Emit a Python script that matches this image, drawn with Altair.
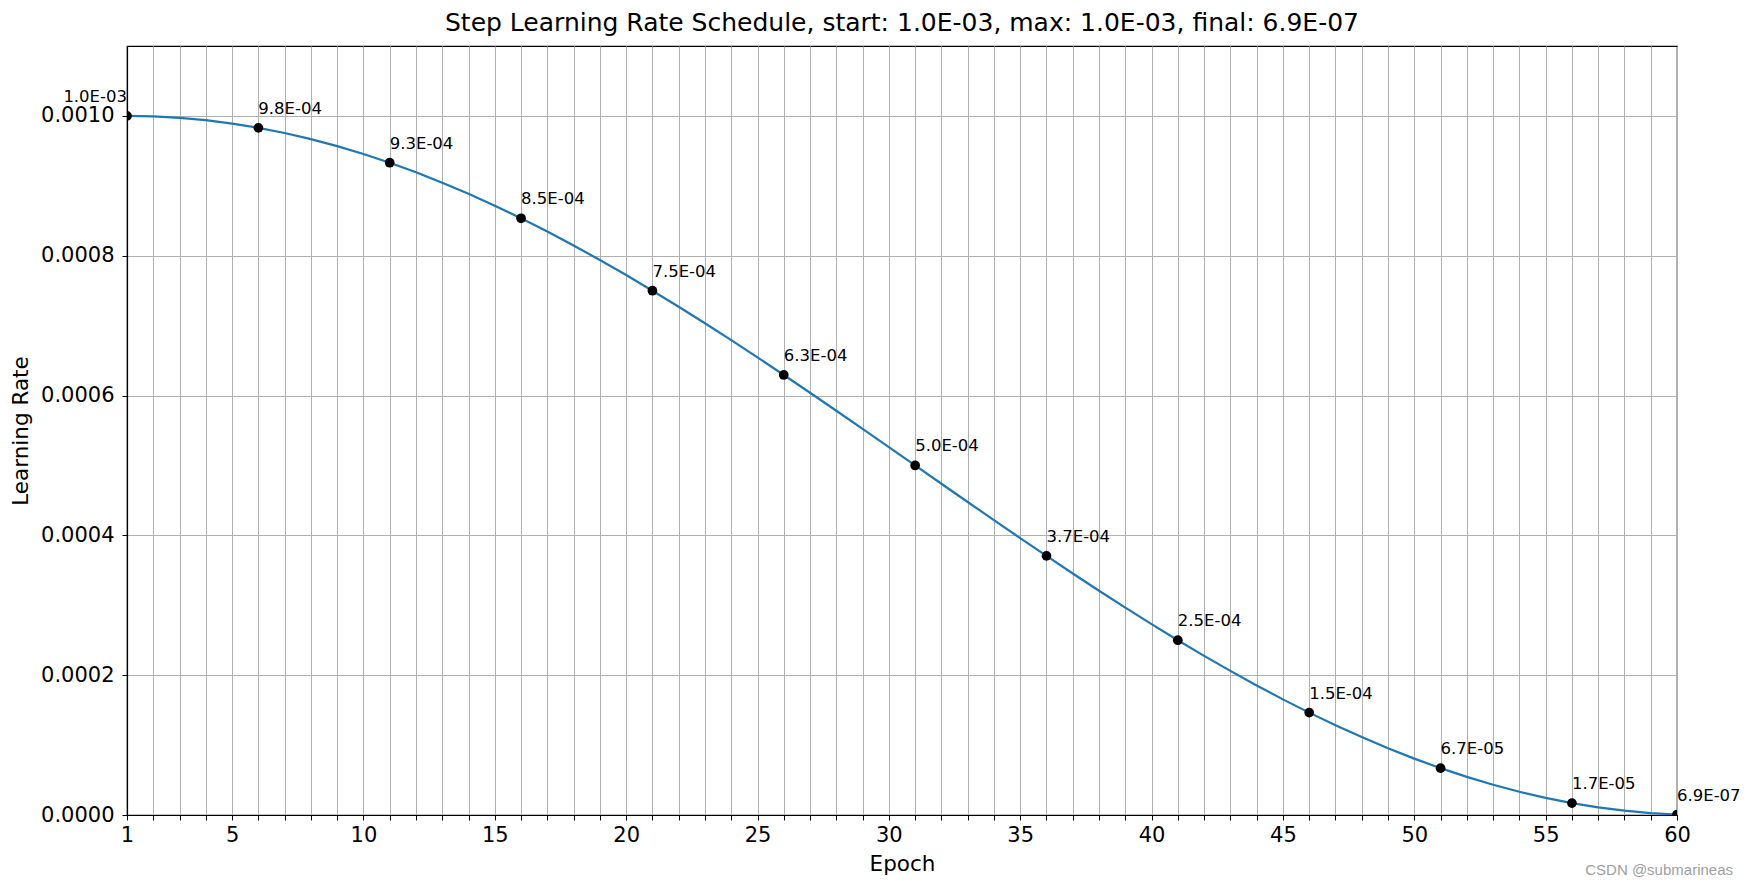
import altair as alt
import pandas as pd

# Learning rate per epoch
epochs = list(range(1, 61))
lr_values = [
    1.0000e-03, 9.9932e-04, 9.9726e-04, 9.9384e-04, 9.8907e-04, 9.8296e-04,
    9.7553e-04, 9.6679e-04, 9.5677e-04, 9.4550e-04, 9.3301e-04, 9.1934e-04,
    9.0451e-04, 8.8857e-04, 8.7157e-04, 8.5355e-04, 8.3457e-04, 8.1466e-04,
    7.9389e-04, 7.7232e-04, 7.5000e-04, 7.2700e-04, 7.0337e-04, 6.7918e-04,
    6.5451e-04, 6.2941e-04, 6.0396e-04, 5.7822e-04, 5.5226e-04, 5.2617e-04,
    5.0000e-04, 4.7383e-04, 4.4774e-04, 4.2178e-04, 3.9604e-04, 3.7059e-04,
    3.4549e-04, 3.2082e-04, 2.9663e-04, 2.7300e-04, 2.5000e-04, 2.2768e-04,
    2.0611e-04, 1.8534e-04, 1.6543e-04, 1.4645e-04, 1.2843e-04, 1.1143e-04,
    9.5490e-05, 8.0660e-05, 6.6990e-05, 5.4500e-05, 4.3230e-05, 3.3210e-05,
    2.4470e-05, 1.7040e-05, 1.0930e-05, 6.1600e-06, 2.7400e-06, 6.8500e-07,
]

marker_epochs = [1, 6, 11, 16, 21, 26, 31, 36, 41, 46, 51, 56, 60]
marker_labels = ["1.0E-03", "9.8E-04", "9.3E-04", "8.5E-04", "7.5E-04", "6.3E-04",
                 "5.0E-04", "3.7E-04", "2.5E-04", "1.5E-04", "6.7E-05", "1.7E-05",
                 "6.9E-07"]

y_ticks = [0.0, 0.0002, 0.0004, 0.0006, 0.0008, 0.0010]
x_ticks = list(range(1, 61))

title_text = "Step Learning Rate Schedule, start: 1.0E-03, max: 1.0E-03, final: 6.9E-07"
watermark = "CSDN @submarineas"

FONT = "DejaVu Sans"

line_df = pd.DataFrame({"epoch": epochs, "lr": lr_values})
marker_df = pd.DataFrame({
    "epoch": marker_epochs,
    "lr": [lr_values[e - 1] for e in marker_epochs],
    "label": marker_labels,
})
wm_df = pd.DataFrame({"t": [watermark]})

x_axis = alt.Axis(
    values=x_ticks,
    labelExpr="(datum.value == 1 || datum.value % 5 == 0) ? datum.label : ''",
    labelOverlap=False,
    labelFlush=False,
    grid=True,
    title="Epoch",
)
y_axis = alt.Axis(values=y_ticks, format=".4f", grid=True, title="Learning Rate")

x_enc = alt.X("epoch:Q", scale=alt.Scale(domain=[1, 60], nice=False, zero=False), axis=x_axis)
y_enc = alt.Y("lr:Q", scale=alt.Scale(domain=[0, 0.0011], nice=False), axis=y_axis)

line = alt.Chart(line_df).mark_line(color="#1f77b4", strokeWidth=2.2, clip=True).encode(
    x=x_enc, y=y_enc
)

points = alt.Chart(marker_df).mark_circle(color="black", opacity=1, size=95, clip=True).encode(
    x=x_enc, y=y_enc
)

labels_main = alt.Chart(marker_df).transform_filter("datum.epoch != 1").mark_text(
    align="left", baseline="alphabetic", dy=-14, fontSize=16.5, font=FONT, color="black"
).encode(x=x_enc, y=y_enc, text="label:N")

labels_first = alt.Chart(marker_df).transform_filter("datum.epoch == 1").mark_text(
    align="right", baseline="alphabetic", dy=-14, fontSize=16.5, font=FONT, color="black"
).encode(x=x_enc, y=y_enc, text="label:N")

wm = alt.Chart(wm_df).mark_text(
    align="right", baseline="middle", fontSize=15, font="Liberation Sans", color="#a0a0a0"
).encode(x=alt.value(1606), y=alt.value(824), text="t:N")

chart = alt.layer(line, points, labels_main, labels_first, wm).properties(
    width=1550,
    height=769,
    padding={"left": 119, "top": 38, "right": 64, "bottom": 65},
    autosize=alt.AutoSizeParams(type="none"),
    title=alt.Title(title_text, fontSize=25, font=FONT, fontWeight="normal",
                    color="black", anchor="middle", offset=10),
).configure_view(
    stroke="black", strokeWidth=1.2
).configure_axis(
    labelFont=FONT, titleFont=FONT, labelFontSize=21, titleFontSize=21.5,
    titleFontWeight="normal", labelColor="black", titleColor="black",
    tickColor="black", tickSize=5, tickWidth=1, domainColor="black", domainWidth=1.2,
    gridColor="#b0b0b0", gridWidth=1,
).configure_axisX(
    titlePadding=8, labelPadding=4
).configure_axisY(
    titlePadding=8, labelPadding=8
)

chart.save("out.html", embed_options={"renderer": "svg", "actions": False})
